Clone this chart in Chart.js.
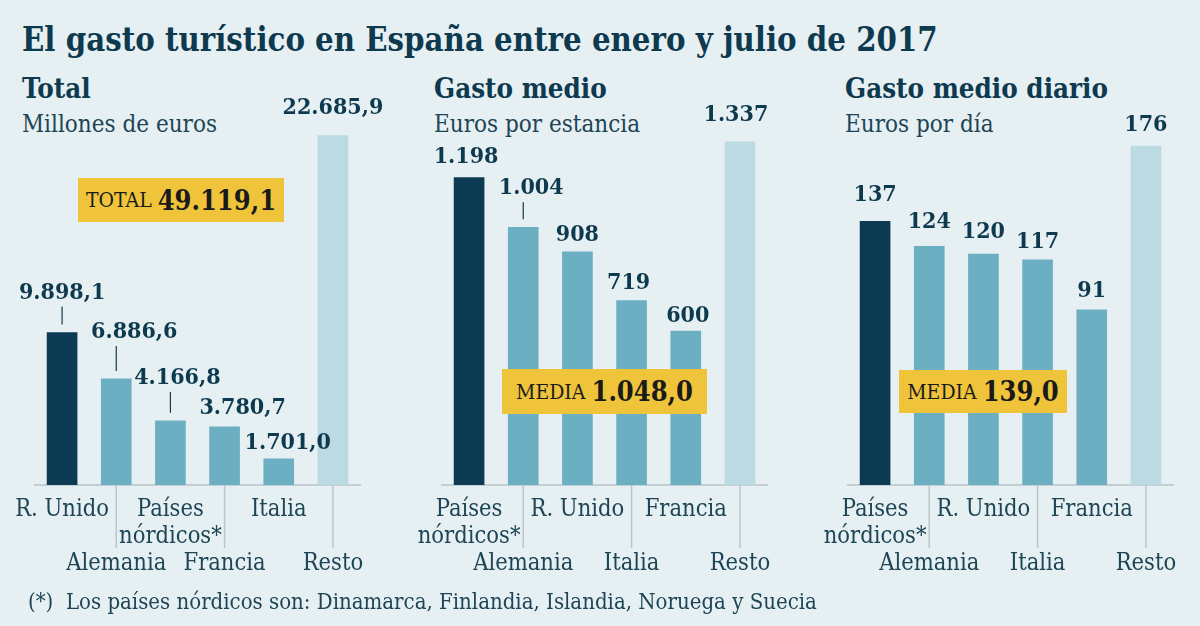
<!DOCTYPE html>
<html>
<head>
<meta charset="utf-8">
<script src="https://cdn.jsdelivr.net/npm/chart.js@4/dist/chart.umd.min.js"></script>
<style>
  html, body { margin:0; padding:0; }
  body { width:1200px; height:626px; background:#e6f0f3; position:relative; overflow:hidden;
         font-family:"DejaVu Serif Condensed","DejaVu Serif",serif; color:#0e3a4f; }
  .abs { position:absolute; white-space:nowrap; }
  #title { left:22px; top:20px; font-size:32.6px; font-weight:bold; line-height:40px; }
  .head { font-size:27.5px; font-weight:bold; line-height:32px; }
  .sub { font-size:24px; line-height:28px; color:#1d4556; }
  .box { background:#efc43b; color:#1a1a1a; display:flex; align-items:center; justify-content:center; gap:6px; }
  .box .k { font-size:21px; }
  .box .v { font-size:27px; font-weight:bold; }
  canvas { position:absolute; }
  #note { left:28px; top:589px; font-size:22px; line-height:26px; color:#1d4556; }
</style>
</head>
<body>
<div id="title" class="abs">El gasto turístico en España entre enero y julio de 2017</div>

<div class="abs head" style="left:22px;top:72px">Total</div>
<div class="abs sub" style="left:22px;top:110px">Millones de euros</div>
<div class="abs head" style="left:434px;top:72px">Gasto medio</div>
<div class="abs sub" style="left:434px;top:110px">Euros por estancia</div>
<div class="abs head" style="left:845px;top:72px">Gasto medio diario</div>
<div class="abs sub" style="left:845px;top:110px">Euros por día</div>

<canvas id="c1" width="400" height="540" style="left:-10px;top:60px"></canvas>
<canvas id="c2" width="400" height="540" style="left:397px;top:60px"></canvas>
<canvas id="c3" width="400" height="540" style="left:803px;top:60px"></canvas>

<div class="abs box" style="left:78px;top:178px;width:206px;height:44px"><span class="k">TOTAL</span><span class="v">49.119,1</span></div>
<div class="abs box" style="left:502px;top:369px;width:205px;height:45px"><span class="k">MEDIA</span><span class="v">1.048,0</span></div>
<div class="abs box" style="left:899px;top:370px;width:168px;height:43px"><span class="k">MEDIA</span><span class="v">139,0</span></div>

<div id="note" class="abs">(*)&nbsp; Los países nórdicos son: Dinamarca, Finlandia, Islandia, Noruega y Suecia</div>

<script>
// DATA
const totalCats = ['R. Unido', 'Alemania', 'Países nórdicos*', 'Francia', 'Italia', 'Resto'];
const totalVals = [9898.1, 6886.6, 4166.8, 3780.7, 1701.0, 22685.9];

const medioCats = ['Países nórdicos*', 'Alemania', 'R. Unido', 'Italia', 'Francia', 'Resto'];
const medioVals = [1198, 1004, 908, 719, 600, 1337];

const diarioCats = ['Países nórdicos*', 'Alemania', 'R. Unido', 'Italia', 'Francia', 'Resto'];
const diarioVals = [137, 124, 120, 117, 91, 176];

const FONT = '"DejaVu Serif Condensed", "DejaVu Serif", serif';
const DARK = '#0b3a52', MID = '#6cafc3', LIGHT = '#bbdae2';
const TEXT = '#0e3a4f';

// 9898.1 -> "9.898,1"
function fmt(v, dec) {
    let s = v.toFixed(dec).split('.');
    let int = s[0].replace(/\B(?=(\d{3})+(?!\d))/g, '.');
    return dec ? int + ',' + s[1] : int;
}

function splitLabel(l) {
    return l === 'Países nórdicos*' ? ['Países', 'nórdicos*'] : [l];
}

// value labels above bars, with small leader line on some
const valueLabels = {
    id: 'valueLabels',
    afterDatasetsDraw(chart, args, opts) {
        const ctx = chart.ctx;
        const meta = chart.getDatasetMeta(0);
        const base = chart.chartArea.bottom;
        ctx.save();
        ctx.font = 'bold 23px ' + FONT;
        ctx.fillStyle = TEXT;
        ctx.textAlign = 'center';
        ctx.textBaseline = 'middle';
        meta.data.forEach((bar, i) => {
            const v = chart.data.datasets[0].data[i];
            const lift = opts.lift[i];
            ctx.fillText(fmt(v, opts.dec), bar.x + opts.dx[i], bar.y - lift);
            if (opts.leader[i]) {
                ctx.strokeStyle = TEXT;
                ctx.lineWidth = 1.2;
                ctx.beginPath();
                ctx.moveTo(bar.x, bar.y - 8);
                ctx.lineTo(bar.x, bar.y - lift + 14);
                ctx.stroke();
            }
        });
        // separators under the axis for the second row of labels
        ctx.strokeStyle = '#b9c6cb';
        ctx.lineWidth = 1.5;
        const xs = chart.scales.x;
        for (let i = 1; i < meta.data.length; i += 2) {
            const x = xs.getPixelForValue(i);
            ctx.beginPath();
            ctx.moveTo(x, base);
            ctx.lineTo(x, base + 63);
            ctx.stroke();
        }
        ctx.restore();
    }
};

function makeChart(id, cats, vals, yMax, lbl) {
    const colors = vals.map((v, i) => i === 0 ? DARK : (i === vals.length - 1 ? LIGHT : MID));
    return new Chart(document.getElementById(id), {
        type: 'bar',
        data: {
            labels: cats,
            datasets: [{ data: vals, backgroundColor: colors, barThickness: 30 }]
        },
        options: {
            responsive: false,
            animation: false,
            layout: { padding: { left: 45, right: 30, top: 40, bottom: 0 } },
            plugins: {
                legend: { display: false },
                tooltip: { enabled: false },
                valueLabels: lbl
            },
            scales: {
                y: { display: false, min: 0, max: yMax },
                x: {
                    grid: { display: false, drawTicks: false },
                    border: { display: true, color: '#c3cfd4', width: 2 },
                    afterFit: (s) => { s.height = 115; },
                    ticks: {
                        padding: 11,
                        color: '#1d4556',
                        font: { family: FONT, size: 23.5, lineHeight: 1.15 },
                        autoSkip: false,
                        maxRotation: 0,
                        callback: function (v, i) {
                            const lines = splitLabel(this.getLabelForValue(v));
                            return i % 2 ? ['', '', ...lines] : lines;
                        }
                    }
                }
            }
        },
        plugins: [valueLabels]
    });
}

makeChart('c1', totalCats, totalVals, 25000, {
    dec: 1, dx: [0, 18, 7, 18, 9, 0], lift: [40, 47, 43, 19, 16, 28],
    leader: [true, true, true, false, false, false]
});
makeChart('c2', medioCats, medioVals, 1500, {
    dec: 0, dx: [-3, 8, 0, -3, 2, -4], lift: [20, 39, 17, 17, 15, 27],
    leader: [false, true, false, false, false, false]
});
makeChart('c3', diarioCats, diarioVals, 200, {
    dec: 0, dx: [0, 0, 0, 0, 0, 0], lift: [26, 24, 22, 18, 19, 21],
    leader: [false, false, false, false, false, false]
});
</script>
</body>
</html>
